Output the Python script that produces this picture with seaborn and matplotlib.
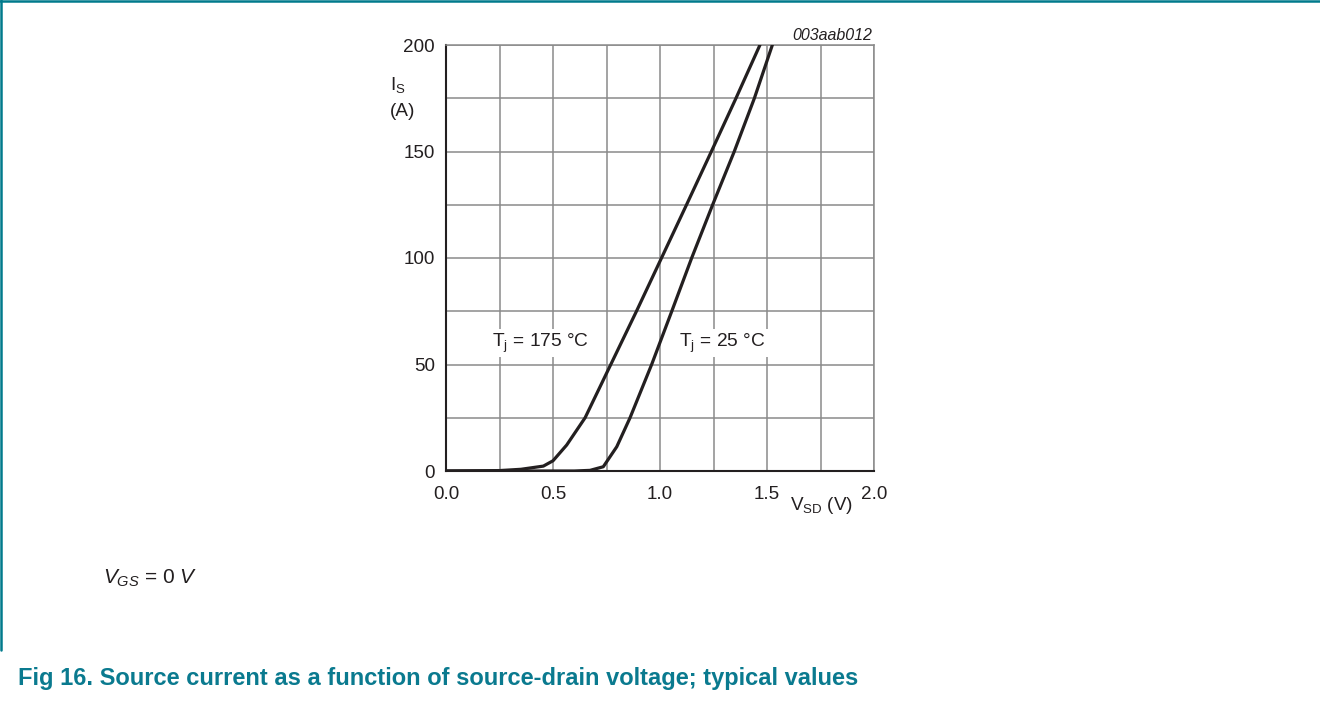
import matplotlib
matplotlib.use("Agg")
import matplotlib.pyplot as plt
import seaborn as sns
import pandas as pd
from matplotlib.ticker import MultipleLocator

# ---- data ----
v_175 = [0.0, 0.25, 0.35, 0.455, 0.50, 0.564, 0.65, 0.77, 0.89, 1.007, 1.124, 1.24, 1.355, 1.467]
i_175 = [0, 0.2, 0.8, 2.3, 4.8, 12.2, 25, 50, 75, 100, 125, 150, 175, 200]
v_25 = [0.0, 0.60, 0.673, 0.735, 0.798, 0.86, 0.961, 1.055, 1.148, 1.246, 1.347, 1.441, 1.525]
i_25 = [0, 0, 0.3, 2, 11.4, 25, 50, 75, 100, 125, 150, 175, 200]
series_labels = ["Tj = 175 °C", "Tj = 25 °C"]
x_ticks = [0.0, 0.5, 1.0, 1.5, 2.0]
y_ticks = [0, 50, 100, 150, 200]

df = pd.concat([
    pd.DataFrame({"V": v_175, "I": i_175, "s": series_labels[0]}),
    pd.DataFrame({"V": v_25, "I": i_25, "s": series_labels[1]}),
])

sns.set_theme(style="white")
plt.rcParams["font.family"] = ["Liberation Sans", "DejaVu Sans"]
plt.rcParams["mathtext.fontset"] = "custom"
plt.rcParams["mathtext.rm"] = "Liberation Sans"
plt.rcParams["mathtext.it"] = "Liberation Sans:italic"

fig = plt.figure(figsize=(13.2, 7.01), dpi=100)
ax = fig.add_axes([446 / 1320, 1 - 471 / 701, 428 / 1320, 426 / 701])

sns.lineplot(data=df, x="V", y="I", hue="s", units="s", estimator=None,
             palette=["#231f20", "#231f20"], linewidth=2.3, legend=False,
             sort=False, ax=ax, zorder=5)

ax.set_xlim(0, 2.0)
ax.set_ylim(0, 200)
ax.set_xticks(x_ticks)
ax.set_xticklabels([f"{t:.1f}" for t in x_ticks])
ax.set_yticks(y_ticks)
ax.set_yticklabels([str(t) for t in y_ticks])
ax.xaxis.set_minor_locator(MultipleLocator(0.25))
ax.yaxis.set_minor_locator(MultipleLocator(25))
ax.grid(True, which="both", color="#8a8a8a", linewidth=1.1, zorder=0)
ax.set_axisbelow(True)
ax.tick_params(which="both", length=0, labelsize=13.6, colors="#231f20")
ax.tick_params(axis="y", pad=8)
ax.tick_params(axis="x", pad=11)
ax.set_xlabel("")
ax.set_ylabel("")
for side in ["top", "right"]:
    ax.spines[side].set_color("#8a8a8a")
    ax.spines[side].set_linewidth(1.1)
for side in ["left", "bottom"]:
    ax.spines[side].set_color("#231f20")
    ax.spines[side].set_linewidth(1.5)

# curve labels
bbox = dict(facecolor="white", edgecolor="none", pad=1.5)
ax.text(0.215, 60.0, r"T$_\mathregular{j}$ = 175 °C", fontsize=13.8, va="center",
        ha="left", color="#231f20", bbox=bbox, zorder=6)
ax.text(1.09, 60.0, r"T$_\mathregular{j}$ = 25 °C", fontsize=13.8, va="center",
        ha="left", color="#231f20", bbox=bbox, zorder=6)

# axis labels
fig.text(390 / 1320, 1 - 85 / 701, r"I$_\mathregular{S}$", fontsize=13.6, ha="left", va="center", color="#231f20")
fig.text(390 / 1320, 1 - 112 / 701, "(A)", fontsize=13.6, ha="left", va="center", color="#231f20")
fig.text(790 / 1320, 1 - 506 / 701, r"V$_\mathregular{SD}$ (V)", fontsize=13.6, ha="left", va="center", color="#231f20")
fig.text(872 / 1320, 1 - 36 / 701, "003aab012", fontsize=11.5, style="italic", ha="right", va="center", color="#231f20")

# notes & caption
fig.text(103 / 1320, 1 - 578 / 701, r"$V_{GS}$ = 0 $V$", fontsize=15, ha="left", va="center",
         color="#231f20")
fig.text(18 / 1320, 1 - 679 / 701, "Fig 16. Source current as a function of source-drain voltage; typical values",
         fontsize=17, fontweight="bold", ha="left", va="center", color="#0a7a8f")

# frame lines (top and left)
fig.add_artist(plt.Line2D([0, 1], [1 - 1 / 701, 1 - 1 / 701], color="#007a8c", linewidth=1.8, transform=fig.transFigure))
fig.add_artist(plt.Line2D([1 / 1320, 1 / 1320], [1 - 650 / 701, 1], color="#007a8c", linewidth=1.8, transform=fig.transFigure))

fig.savefig("out.png", dpi=100)
